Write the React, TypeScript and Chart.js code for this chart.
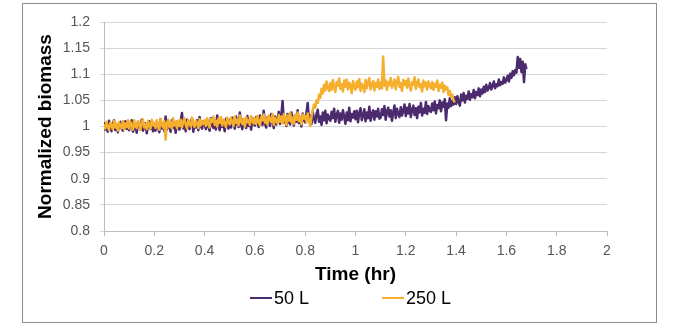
import React, { useEffect, useRef } from "react";
import { Chart, registerables } from "chart.js";

Chart.register(...registerables);

const FONT = '"Liberation Sans", Arial, Helvetica, sans-serif';

// Sampling interval of both runs (hours)
const sampleStepHr = 0.005;

const seriesNames = ["50 L", "250 L"];
const seriesColors = ["#4b2a6e", "#f5af2d"];

// Normalized biomass, 50 L run (t = 0.000 .. 1.680 hr, one row per 0.1 hr)
const biomass50L = [
  1.008, 0.994, 1.003, 0.990, 1.011, 0.998, 0.991, 1.005, 1.012, 0.993, 1.001, 0.989, 1.006, 1.009, 0.996, 0.992, 1.002, 1.010, 0.995, 1.004,
  0.993, 1.007, 1.012, 0.990, 0.997, 1.004, 0.988, 1.009, 1.001, 0.994, 1.013, 0.992, 0.999, 1.006, 0.987, 1.003, 1.010, 0.995, 1.008, 0.991,
  1.005, 0.992, 1.010, 0.999, 0.989, 1.014, 0.996, 1.003, 0.991, 1.019, 0.994, 1.008, 1.000, 0.990, 1.012, 0.997, 1.006, 0.988, 1.009, 1.002,
  0.994, 1.011, 1.026, 0.996, 1.007, 0.991, 1.013, 1.002, 0.995, 1.009, 1.015, 0.990, 1.005, 0.998, 1.012, 0.993, 1.018, 1.001, 0.996, 1.010,
  1.006, 0.995, 1.013, 1.000, 0.992, 1.016, 1.003, 0.997, 1.011, 0.994, 1.021, 1.005, 0.993, 1.012, 0.999, 1.008, 0.991, 1.015, 1.002, 0.996,
  1.013, 0.998, 1.017, 1.004, 0.996, 1.019, 1.008, 0.999, 1.027, 1.003, 0.995, 1.014, 1.009, 0.997, 1.020, 1.001, 1.011, 0.994, 1.016, 1.005,
  1.002, 1.018, 1.008, 0.999, 1.021, 1.012, 1.003, 1.030, 1.006, 0.998, 1.017, 1.011, 1.001, 1.024, 1.009, 0.997, 1.019, 1.004, 1.014, 1.028,
  1.005, 1.020, 1.049, 1.008, 1.016, 1.001, 1.024, 1.010, 1.004, 1.027, 1.013, 1.002, 1.022, 1.009, 1.031, 1.006, 1.018, 1.000, 1.025, 1.012,
  1.008, 1.026, 1.045, 1.011, 1.021, 1.005, 1.029, 1.014, 1.007, 1.024, 1.032, 1.009, 1.019, 1.003, 1.027, 1.012, 1.030, 1.006, 1.023, 1.015,
  1.011, 1.028, 1.016, 1.034, 1.009, 1.022, 1.030, 1.007, 1.025, 1.013, 1.031, 1.018, 1.005, 1.027, 1.012, 1.036, 1.010, 1.024, 1.017, 1.029,
  1.014, 1.030, 1.008, 1.026, 1.035, 1.012, 1.021, 1.033, 1.010, 1.027, 1.016, 1.038, 1.011, 1.024, 1.031, 1.013, 1.029, 1.019, 1.034, 1.015,
  1.017, 1.033, 1.022, 1.039, 1.013, 1.028, 1.036, 1.019, 1.031, 1.011, 1.027, 1.040, 1.016, 1.034, 1.024, 1.018, 1.037, 1.021, 1.030, 1.042,
  1.020, 1.036, 1.025, 1.043, 1.018, 1.032, 1.040, 1.022, 1.035, 1.016, 1.038, 1.027, 1.045, 1.021, 1.034, 1.026, 1.047, 1.024, 1.039, 1.030,
  1.028, 1.044, 1.031, 1.048, 1.025, 1.041, 1.035, 1.050, 1.029, 1.046, 1.038, 1.052, 1.012, 1.044, 1.036, 1.054, 1.039, 1.049, 1.042, 1.056,
  1.043, 1.058, 1.047, 1.040, 1.061, 1.050, 1.064, 1.046, 1.059, 1.053, 1.067, 1.051, 1.062, 1.056, 1.070, 1.054, 1.066, 1.060, 1.073, 1.058,
  1.071, 1.063, 1.076, 1.066, 1.080, 1.069, 1.074, 1.083, 1.071, 1.078, 1.086, 1.073, 1.081, 1.077, 1.090, 1.079, 1.085, 1.082, 1.094, 1.084,
  1.089, 1.097, 1.086, 1.101, 1.093, 1.106, 1.098, 1.108, 1.103, 1.133, 1.112, 1.129, 1.104, 1.124, 1.085, 1.119, 1.110,
];

// Normalized biomass, 250 L run (t = 0.000 .. 1.395 hr, one row per 0.1 hr)
const biomass250L = [
  1.004, 0.996, 1.009, 1.000, 0.993, 1.007, 1.002, 0.995, 1.011, 0.998, 1.005, 0.992, 1.008, 1.001, 0.997, 1.010, 0.994, 1.006, 0.999, 1.012,
  0.996, 1.009, 1.003, 0.994, 1.012, 1.000, 0.997, 1.010, 1.005, 0.993, 1.008, 1.014, 0.998, 1.004, 0.995, 1.011, 1.001, 0.996, 1.013, 1.002,
  1.007, 0.997, 1.012, 1.001, 0.994, 1.015, 1.004, 0.998, 1.010, 0.975, 1.006, 1.013, 0.999, 1.008, 0.996, 1.016, 1.002, 1.009, 0.997, 1.011,
  1.001, 1.013, 0.998, 1.009, 1.016, 1.003, 0.996, 1.012, 1.006, 1.000, 1.017, 1.004, 0.999, 1.011, 1.007, 0.997, 1.014, 1.002, 1.010, 1.005,
  1.012, 1.001, 1.016, 1.005, 0.998, 1.014, 1.009, 1.019, 1.003, 1.011, 1.000, 1.015, 1.007, 1.018, 1.002, 1.013, 1.006, 0.999, 1.017, 1.008,
  1.004, 1.016, 1.009, 1.001, 1.019, 1.007, 1.013, 1.002, 1.021, 1.010, 1.005, 1.015, 1.000, 1.018, 1.008, 1.012, 1.003, 1.020, 1.011, 1.006,
  1.016, 1.005, 1.020, 1.010, 1.002, 1.018, 1.012, 1.023, 1.007, 1.015, 1.004, 1.021, 1.013, 1.008, 1.024, 1.003, 1.017, 1.011, 1.006, 1.022,
  1.009, 1.019, 1.006, 1.024, 1.014, 1.003, 1.021, 1.011, 1.026, 1.008, 1.017, 1.005, 1.022, 1.013, 1.027, 1.010, 1.018, 1.004, 1.023, 1.015,
  1.020, 1.008, 1.025, 1.012, 1.001, 1.018, 1.031, 1.042, 1.036, 1.050, 1.045, 1.061, 1.055, 1.072, 1.063, 1.080, 1.069, 1.086, 1.074, 1.068,
  1.083, 1.070, 1.089, 1.075, 1.066, 1.085, 1.078, 1.092, 1.072, 1.081, 1.067, 1.088, 1.076, 1.090, 1.071, 1.084, 1.079, 1.064, 1.087, 1.077,
  1.070, 1.086, 1.075, 1.091, 1.068, 1.082, 1.077, 1.066, 1.089, 1.073, 1.084, 1.093, 1.071, 1.080, 1.087, 1.069, 1.083, 1.076, 1.090, 1.072,
  1.084, 1.073, 1.134, 1.078, 1.088, 1.070, 1.085, 1.079, 1.093, 1.074, 1.082, 1.090, 1.071, 1.086, 1.095, 1.076, 1.083, 1.068, 1.089, 1.080,
  1.087, 1.074, 1.092, 1.078, 1.069, 1.085, 1.080, 1.094, 1.072, 1.083, 1.090, 1.075, 1.081, 1.067, 1.088, 1.077, 1.084, 1.071, 1.086, 1.079,
  1.073, 1.085, 1.070, 1.082, 1.076, 1.088, 1.068, 1.080, 1.074, 1.084, 1.066, 1.078, 1.071, 1.075, 1.060, 1.068, 1.057, 1.061, 1.050, 1.046,
];

const seriesValues = [biomass50L, biomass250L];

const xMin = 0;
const xMax = 2;
const xStep = 0.2;
const yMin = 0.8;
const yMax = 1.2;
const yStep = 0.05;

const xTitle = "Time (hr)";
const yTitle = "Normalized biomass";

const fmt = (v: number | string) => String(Number(Number(v).toFixed(2)));

const toPoints = (vals: number[]) =>
  vals.map((y, i) => ({ x: Number((i * sampleStepHr).toFixed(3)), y }));

export default function App() {
  const canvasRef = useRef<HTMLCanvasElement | null>(null);

  useEffect(() => {
    document.body.style.margin = "0";
    const canvas = canvasRef.current;
    if (!canvas) return;
    const chart = new Chart(canvas, {
      type: "line",
      data: {
        datasets: seriesNames.map((name, i) => ({
          label: name,
          data: toPoints(seriesValues[i]),
          borderColor: seriesColors[i],
          backgroundColor: seriesColors[i],
          borderWidth: 2.5,
          pointRadius: 0,
          tension: 0,
          fill: false,
          borderJoinStyle: "round",
          order: i === 0 ? 1 : 0,
        })),
      },
      options: {
        animation: false,
        responsive: false,
        maintainAspectRatio: false,
        layout: { padding: { left: 22, top: 22, right: 68, bottom: 36 } },
        plugins: {
          legend: { display: false },
          tooltip: { enabled: false },
        },
        scales: {
          x: {
            type: "linear",
            min: xMin,
            max: xMax,
            ticks: {
              stepSize: xStep,
              padding: 7,
              color: "#555555",
              font: { size: 14, family: FONT },
              callback: (v: any) => fmt(v),
              maxRotation: 0,
            },
            grid: {
              drawOnChartArea: false,
              drawTicks: true,
              tickLength: 5,
              color: "#bdbdbd",
            },
            border: { color: "#bdbdbd" },
            title: {
              display: true,
              text: xTitle,
              color: "#000000",
              font: { size: 19, weight: "bold", family: FONT },
              padding: { top: 0, bottom: 1 },
            },
            afterFit: (s: any) => {
              s.height = 56;
            },
          },
          y: {
            type: "linear",
            min: yMin,
            max: yMax,
            ticks: {
              stepSize: yStep,
              padding: 10,
              color: "#555555",
              font: { size: 14, family: FONT },
              callback: (v: any) => fmt(v),
            },
            grid: {
              color: "#d6d6d6",
              tickLength: 4,
              lineWidth: 1,
            },
            border: { color: "#bdbdbd" },
            title: {
              display: true,
              text: yTitle,
              color: "#000000",
              font: { size: 19, weight: "bold", family: FONT },
              padding: { top: 12, bottom: 0 },
            },
            afterFit: (s: any) => {
              s.width = 82;
            },
          },
        },
      },
    } as any);
    return () => chart.destroy();
  }, []);

  const legendLeft = [250, 382];

  return (
    <div style={{ position: "relative", width: 675, height: 323, overflow: "hidden", background: "#fff" }}>
      <div
        style={{
          position: "absolute",
          left: 22,
          top: 3,
          width: 633,
          height: 318,
          border: "1px solid #8c8c8c",
        }}
      />
      <canvas ref={canvasRef} width={675} height={323} style={{ position: "absolute", left: 0, top: 0 }} />
      {seriesNames.map((name, i) => (
        <div
          key={name}
          style={{
            position: "absolute",
            left: legendLeft[i],
            top: 287,
            height: 22,
            lineHeight: "22px",
            fontFamily: FONT,
            fontSize: 18,
            color: "#000",
            whiteSpace: "nowrap",
          }}
        >
          <span
            style={{
              position: "absolute",
              left: 0,
              top: 10,
              width: 22,
              height: 2,
              background: seriesColors[i],
            }}
          />
          <span style={{ position: "relative", left: 24 }}>{name}</span>
        </div>
      ))}
    </div>
  );
}
